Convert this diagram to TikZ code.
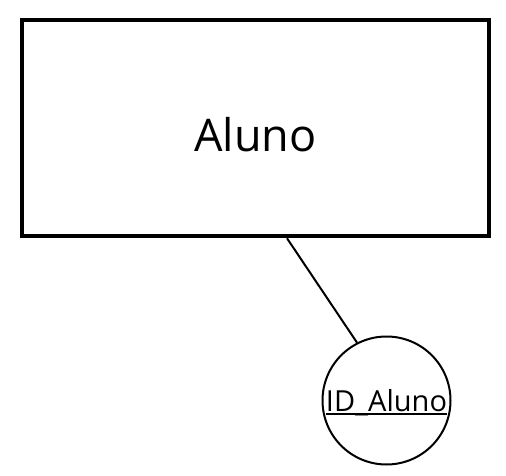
\documentclass[tikz,border=0pt]{standalone}
\usepackage{fontspec}
\setmainfont{Open Sans}
\newcommand{\thickul}[1]{{\setbox0\hbox{#1}\rlap{\rule[-3.5pt]{\wd0}{1.8pt}}\box0}}
\begin{document}
\begin{tikzpicture}[x=1pt,y=-1pt,
  entity/.style={draw,line width=4.5pt,minimum width=467pt,minimum height=216pt,inner sep=0pt,text height=48pt,text depth=0pt,font=\fontsize{45}{50}\selectfont},
  attrib/.style={draw,circle,line width=2pt,minimum size=128pt,inner sep=0pt,text height=21pt,text depth=0pt,font=\fontsize{29}{32}\selectfont},
  link/.style={line width=2pt}]
\useasboundingbox (0,0) rectangle (506,476);
\node[entity] (aluno) at (255.5,128) {Aluno};
\node[attrib] (id) at (386.5,400.5) {\thickul{ID\_Aluno}};
\draw[link] ([xshift=31.5pt]aluno.south) -- (id.117);
\end{tikzpicture}
\end{document}
